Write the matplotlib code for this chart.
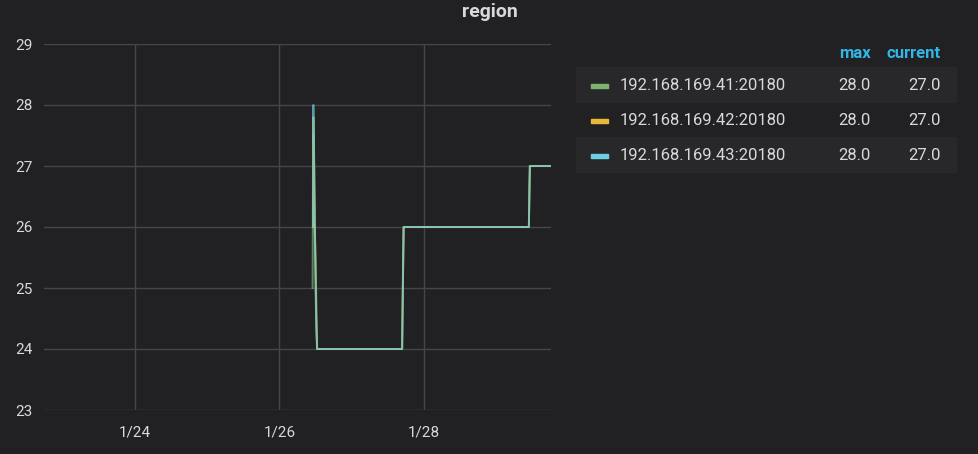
import numpy as np
import pandas as pd
import matplotlib
matplotlib.use('Agg')
import matplotlib.pyplot as plt
import matplotlib.dates as mdates
from matplotlib.ticker import FuncFormatter
from matplotlib.patches import Rectangle

plt.rcParams['font.family'] = ['Roboto', 'DejaVu Sans']

names = ['192.168.169.41:20180', '192.168.169.42:20180', '192.168.169.43:20180']
colors = ['#7EB26D', '#EAB839', '#6ED0E0']

t41 = ['2021-01-26 11:00', '2021-01-26 11:10', '2021-01-26 11:20', '2021-01-26 11:40',
       '2021-01-26 12:00', '2021-01-26 12:20', '2021-01-26 12:30', '2021-01-27 16:40',
       '2021-01-27 17:00', '2021-01-27 17:10', '2021-01-29 10:40', '2021-01-29 10:50',
       '2021-01-29 11:00', '2021-01-29 18:00']
v41 = [25, 27.5, 27.3, 26, 25.5, 24.5, 24, 24, 25.5, 26, 26, 26.7, 27, 27]

t42 = ['2021-01-26 11:10', '2021-01-26 11:15', '2021-01-26 11:30', '2021-01-26 11:50',
       '2021-01-26 12:10', '2021-01-26 12:30', '2021-01-27 16:40', '2021-01-27 17:10',
       '2021-01-29 10:40', '2021-01-29 11:00', '2021-01-29 18:00']
v42 = [26, 27.8, 27.2, 25.8, 24.6, 24, 24, 26, 26, 27, 27]

t43 = ['2021-01-26 11:10', '2021-01-26 11:15', '2021-01-26 11:30', '2021-01-26 11:50',
       '2021-01-26 12:15', '2021-01-26 12:30', '2021-01-27 16:40', '2021-01-27 17:10',
       '2021-01-29 10:40', '2021-01-29 11:00', '2021-01-29 18:00']
v43 = [26, 28, 27, 25.5, 24.3, 24, 24, 26, 26, 27, 27]

series_t = [t41, t42, t43]
series_v = [v41, v42, v43]
max_vals = ['28.0', '28.0', '28.0']
cur_vals = ['27.0', '27.0', '27.0']

bg = '#212124'
txt = '#d8d9da'
fig = plt.figure(figsize=(9.79, 4.54), dpi=100, facecolor=bg)
ax = fig.add_axes([44 / 979, 1 - 410 / 454, 507 / 979, 366 / 454], facecolor=bg)

for t, v, c in zip(series_t, series_v, colors):
    ax.plot(pd.to_datetime(t), v, color=c, lw=1.4, alpha=0.7)

ax.set_xlim(pd.Timestamp('2021-01-22 18:00'), pd.Timestamp('2021-01-29 18:00'))
ax.set_ylim(23, 29)
ax.set_yticks(range(23, 30))
ax.xaxis.set_major_locator(mdates.DayLocator(bymonthday=[24, 26, 28]))
ax.xaxis.set_major_formatter(FuncFormatter(
    lambda x, p: '%d/%d' % (mdates.num2date(x).month, mdates.num2date(x).day)))
ax.grid(True, color='#464646', lw=1)
ax.set_axisbelow(True)
for s in ax.spines.values():
    s.set_visible(False)
ax.tick_params(colors=txt, length=0, labelsize=11, pad=8)
ax.tick_params(axis='x', pad=11)

fig.text(490 / 979, 1 - 12 / 454, 'region', color=txt, fontsize=14,
         fontweight='bold', ha='center', va='center')

# legend table
fig.text(871 / 979, 1 - 54 / 454, 'max', color='#33B5E5', fontsize=12,
         fontweight='bold', ha='right', va='center')
fig.text(941 / 979, 1 - 54 / 454, 'current', color='#33B5E5', fontsize=12,
         fontweight='bold', ha='right', va='center')
row_h = 35
for i, (n, c) in enumerate(zip(names, colors)):
    top = 67 + i * row_h
    if i % 2 == 0:
        fig.patches.append(Rectangle((576 / 979, 1 - (top + row_h) / 454), 380 / 979, row_h / 454,
                                     transform=fig.transFigure, color='#28282b', zorder=0))
    yc = 1 - (top + row_h / 2 + 1) / 454
    fig.patches.append(Rectangle((591 / 979, yc - 2 / 454), 17 / 979, 4 / 454,
                                 transform=fig.transFigure, color=c, zorder=1))
    fig.text(620 / 979, yc, n, color=txt, fontsize=12, ha='left', va='center')
    fig.text(871 / 979, yc, max_vals[i], color=txt, fontsize=12, ha='right', va='center')
    fig.text(941 / 979, yc, cur_vals[i], color=txt, fontsize=12, ha='right', va='center')

fig.savefig('out.png', dpi=100, facecolor=bg)
